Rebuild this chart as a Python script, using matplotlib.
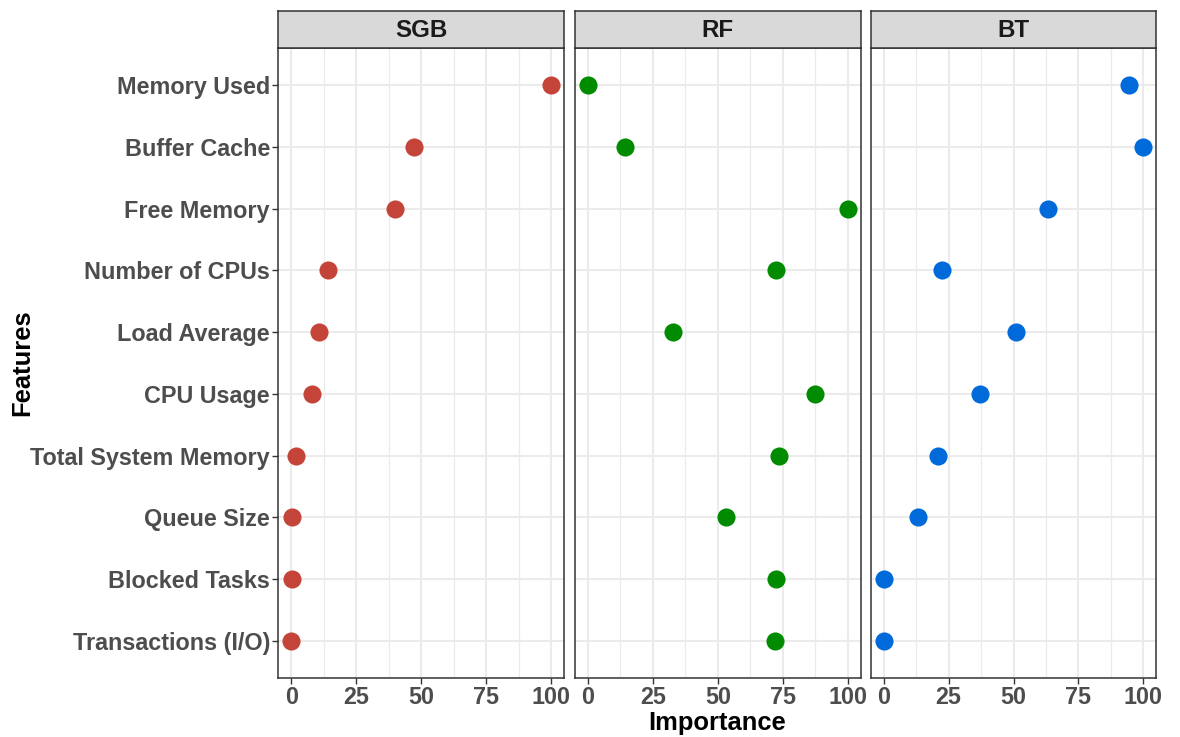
import matplotlib
matplotlib.use("Agg")
import matplotlib.pyplot as plt
import numpy as np

plt.rcParams['font.family'] = ['Liberation Sans', 'DejaVu Sans']

features = ["Memory Used", "Buffer Cache", "Free Memory", "Number of CPUs",
            "Load Average", "CPU Usage", "Total System Memory", "Queue Size",
            "Blocked Tasks", "Transactions (I/O)"]
models = ["SGB", "RF", "BT"]
sgb = [100, 47.2, 40.1, 14.0, 10.8, 7.9, 1.8, 0.4, 0.3, 0.0]
rf = [0.0, 14.2, 100, 72.2, 32.9, 87.4, 73.6, 53.3, 72.2, 71.9]
bt = [94.6, 100, 63.2, 22.3, 51.0, 37.1, 21.0, 13.1, 0.0, 0.0]
colors = ["#C5443A", "#008B00", "#006ADB"]
x_ticks = [0, 25, 50, 75, 100]

W, H = 1180, 737
fig = plt.figure(figsize=(W / 100, H / 100), dpi=100)

panel_lefts = [278.3, 575.0, 870.7]
panel_w = 285.7
panel_top, panel_bot = 48.3, 677.7
strip_top = 10.7
edge = "#333333"

n = len(features)
ypos = np.arange(n)[::-1] + 1  # first feature on top

for i, (name, vals, col) in enumerate(zip(models, [sgb, rf, bt], colors)):
    ax = fig.add_axes([panel_lefts[i] / W, 1 - panel_bot / H,
                       panel_w / W, (panel_bot - panel_top) / H])
    ax.set_xlim(-5, 105)
    ax.set_ylim(0.4, n + 0.6)
    ax.set_xticks(x_ticks)
    ax.set_xticks([12.5, 37.5, 62.5, 87.5], minor=True)
    ax.set_yticks(ypos)
    ax.grid(True, which="major", color="#EBEBEB", linewidth=1.5)
    ax.grid(True, which="minor", axis="x", color="#EBEBEB", linewidth=0.9)
    ax.set_axisbelow(True)
    ax.scatter(vals, ypos, s=170, color=col, zorder=3, linewidths=0)
    for sp in ax.spines.values():
        sp.set_color(edge)
        sp.set_linewidth(1.1)
    ax.tick_params(axis="both", which="major", length=4, width=1.0,
                   color=edge, labelcolor="#4D4D4D", labelsize=16.8, pad=2)
    ax.tick_params(axis="both", which="minor", length=0)
    for lbl in ax.get_xticklabels():
        lbl.set_fontweight("bold")
    if i == 0:
        ax.set_yticklabels(features, fontweight="bold")
    else:
        ax.tick_params(axis="y", length=0, labelleft=False)

    # facet strip
    sax = fig.add_axes([panel_lefts[i] / W, 1 - panel_top / H,
                        panel_w / W, (panel_top - strip_top) / H])
    sax.set_xlim(0, 1)
    sax.set_ylim(0, 1)
    sax.set_xticks([])
    sax.set_yticks([])
    sax.set_facecolor("#D9D9D9")
    for sp in sax.spines.values():
        sp.set_color(edge)
        sp.set_linewidth(1.1)
    sax.text(0.5, 0.47, name, ha="center", va="center", fontsize=17.4,
             fontweight="bold", color="#1A1A1A")

cx = (panel_lefts[0] + panel_lefts[2] + panel_w) / 2
fig.text(cx / W, 1 - 723 / H, "Importance", ha="center", va="center",
         fontsize=18.4, fontweight="bold", color="black")
fig.text(22 / W, 1 - (panel_top + panel_bot) / 2 / H, "Features", ha="center",
         va="center", rotation=90, fontsize=18.4, fontweight="bold", color="black")

fig.savefig("out.png", dpi=100)
